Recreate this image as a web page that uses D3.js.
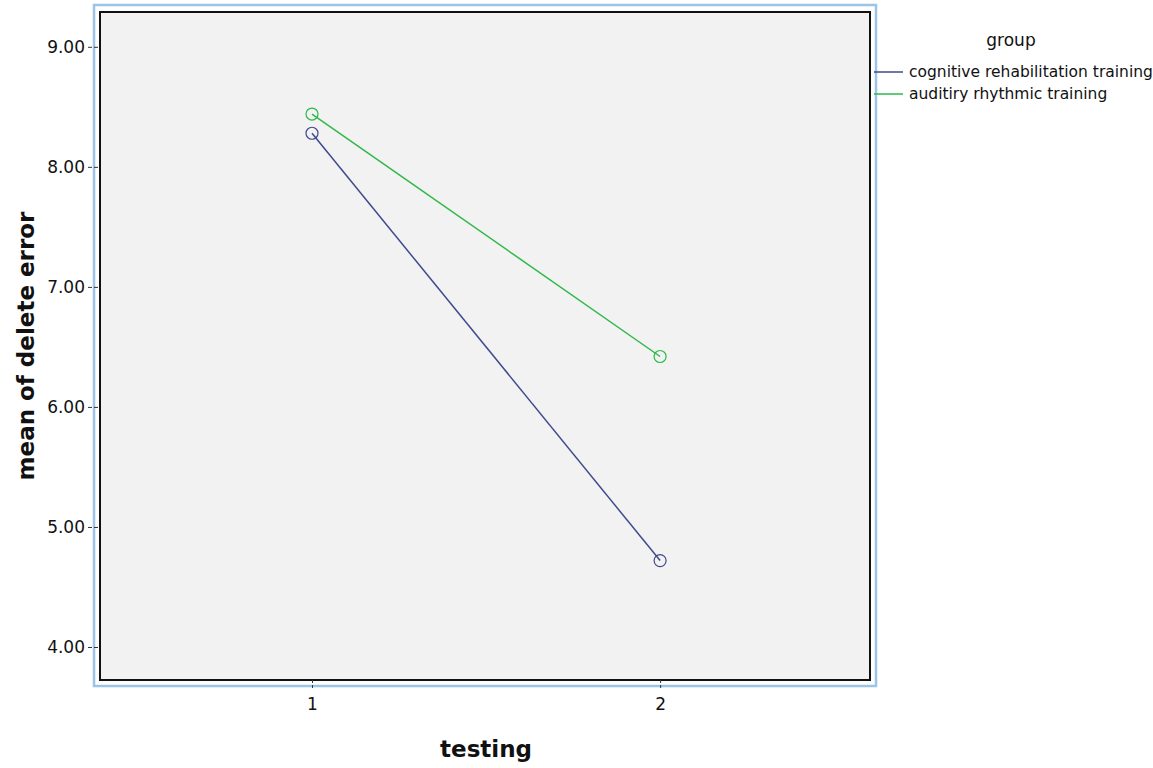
<html>
<head>
<style>
  body{margin:0;background:#fff}
  .chart text{font-family:"DejaVu Sans",Verdana,sans-serif;fill:#111}
  .axis-title{font-size:23px;font-weight:bold}
</style>
</head>
<body>
<div id="chart"></div>
<script src="https://d3js.org/d3.v7.min.js"></script>
<script>
(function () {

  var testing   = [1, 2];
  var groups    = ['cognitive rehabilitation training', 'auditiry rhythmic training'];
  var colors    = ['#3f4a8c', '#2eb848'];
  var cognitive = [8.28, 4.72];
  var auditory  = [8.44, 6.42];
  var yTicks    = [4, 5, 6, 7, 8, 9];

  var series = [cognitive, auditory];

  var
    width  = 1153,
    height = 768,
    left   = 100,
    right  = 870,
    top    = 12,
    bottom = 680;

  var x = d3.scaleLinear().domain([0.391, 2.603]).range([left, right]);
  var y = d3.scaleLinear().domain([3.725, 9.29]).range([bottom, top]);

  var svg = d3.select('#chart').append('svg')
    .attr('class', 'chart')
    .attr('width', width)
    .attr('height', height);

  // outer blue frame
  svg.append('rect')
    .attr('x', left - 6).attr('y', top - 7)
    .attr('width', right - left + 12).attr('height', bottom - top + 13)
    .attr('fill', 'none')
    .attr('stroke', '#9cc4e8')
    .attr('stroke-width', 2.5);

  // plot area
  svg.append('rect')
    .attr('x', left).attr('y', top)
    .attr('width', right - left).attr('height', bottom - top)
    .attr('fill', '#f2f2f2')
    .attr('stroke', '#111')
    .attr('stroke-width', 2);

  // Y axis
  var yAxis = svg.append('g')
    .attr('transform', 'translate(' + (left - 2) + ',0)')
    .call(d3.axisLeft(y).tickValues(yTicks).tickFormat(d3.format('.2f')).tickSize(10).tickPadding(3));
  yAxis.select('.domain').remove();
  yAxis.selectAll('line').attr('stroke', '#333').attr('stroke-dasharray', '4,2');
  yAxis.selectAll('text')
    .style('font-family', '"DejaVu Sans",sans-serif')
    .style('font-size', '17px')
    .attr('fill', '#111');

  // X axis
  var xAxis = svg.append('g')
    .attr('transform', 'translate(0,' + bottom + ')')
    .call(d3.axisBottom(x).tickValues(testing).tickFormat(d3.format('d')).tickSize(10).tickPadding(8));
  xAxis.select('.domain').remove();
  xAxis.selectAll('line').attr('stroke', '#333').attr('stroke-dasharray', '3,2');
  xAxis.selectAll('text')
    .style('font-family', '"DejaVu Sans",sans-serif')
    .style('font-size', '17px')
    .attr('fill', '#111');

  // titles
  svg.append('text')
    .attr('class', 'axis-title')
    .attr('transform', 'translate(34,' + ((top + bottom) / 2) + ') rotate(-90)')
    .attr('text-anchor', 'middle')
    .text('mean of delete error');

  svg.append('text')
    .attr('class', 'axis-title')
    .attr('x', (x(1) + x(2)) / 2)
    .attr('y', 757)
    .attr('text-anchor', 'middle')
    .text('testing');

  // lines and markers
  var line = d3.line()
    .x(function (d, i) { return x(testing[i]); })
    .y(function (d) { return y(d); });

  series.forEach(function (vals, k) {
    svg.append('path')
      .attr('d', line(vals))
      .attr('fill', 'none')
      .attr('stroke', colors[k])
      .attr('stroke-width', 1.5);

    svg.selectAll(null)
      .data(vals)
      .enter().append('circle')
      .attr('cx', function (d, i) { return x(testing[i]); })
      .attr('cy', function (d) { return y(d); })
      .attr('r', 6)
      .attr('fill', 'none')
      .attr('stroke', colors[k])
      .attr('stroke-width', 1.2);
  });

  // legend
  var legend = svg.append('g').attr('class', 'legend');
  legend.append('text')
    .attr('x', 1011).attr('y', 46)
    .attr('text-anchor', 'middle')
    .style('font-size', '17px')
    .text('group');

  groups.forEach(function (g, k) {
    var ly = 72 + k * 22;
    legend.append('line')
      .attr('x1', 874).attr('x2', 903)
      .attr('y1', ly).attr('y2', ly)
      .attr('stroke', colors[k])
      .attr('stroke-width', 1.5);
    legend.append('text')
      .attr('x', 909).attr('y', ly + 5)
      .style('font-size', '15.5px')
      .text(g);
  });

})();
</script>
</body>
</html>
